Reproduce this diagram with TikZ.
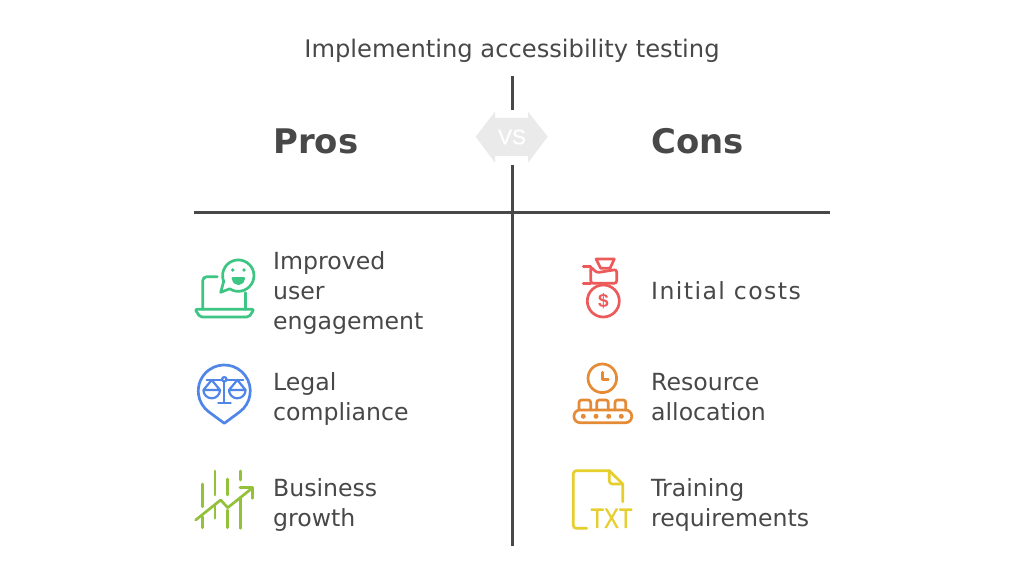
\documentclass[tikz,border=0pt]{standalone}
\usepackage{fontspec}
\setmainfont{DejaVu Sans}
\newfontfamily\iconfont{Liberation Sans}
\definecolor{inkgrey}{HTML}{484848}
\definecolor{vsgrey}{HTML}{EAEAEA}
\definecolor{icongreen}{HTML}{3CC583}
\definecolor{iconblue}{HTML}{4F86E8}
\definecolor{iconlime}{HTML}{93C13A}
\definecolor{iconred}{HTML}{EC5A5A}
\definecolor{iconorange}{HTML}{E58A35}
\definecolor{iconyellow}{HTML}{E6CE2C}
\begin{document}
\begin{tikzpicture}[
	x=1pt, y=-1pt,
	% Define the styles for the texts and lines
	titletext/.style={text=inkgrey, inner sep=0pt, font=\fontsize{24.2}{28}\selectfont},
	headtext/.style={text=inkgrey, inner sep=0pt, anchor=west, font=\fontsize{33.9}{40}\selectfont\bfseries},
	itemtext/.style={text=inkgrey, inner sep=0pt, anchor=west, align=left, font=\fontsize{23.6}{30}\selectfont},
	axisline/.style={draw=inkgrey, line width=3pt},
	iconline/.style={line width=2.7pt, line join=round, line cap=round},
	thinline/.style={line width=2.2pt, line join=round, line cap=round}
	]
	
	\useasboundingbox[fill=white] (0,0) rectangle (1024,577);
	
	% --- TEXTS ---
	\node[titletext] (title) at (512,51) {Implementing accessibility testing};
	\node[headtext] (pros) at (273,141) {Pros};
	\node[headtext] (cons) at (651,141) {Cons};
	
	\node[itemtext] (engage) at (273,293) {Improved\\user\\engagement};
	\node[itemtext] (legal) at (273,399) {Legal\\compliance};
	\node[itemtext] (growth) at (273,505) {Business\\growth};
	\node[itemtext] (costs) at (651,291) {\addfontfeature{LetterSpace=6}Initial costs};
	\node[itemtext] (resource) at (651,397) {Resource\\allocation};
	\node[itemtext] (training) at (651,505) {Training\\requirements};
	
	% --- AXES ---
	\coordinate (axistop) at (512,76);
	\coordinate (vstop) at (512,110);
	\coordinate (vsbottom) at (512,165);
	\coordinate (axisbottom) at (512,546);
	\coordinate (axisleft) at (194,213);
	\coordinate (axisright) at (830,213);
	
	\draw[axisline] (axistop) -- (vstop);
	\draw[axisline] (vsbottom) -- (axisbottom);
	\draw[axisline] (axisleft) -- (axisright);
	
	% --- VS BADGE ---
	\fill[vsgrey] (475.7,136.7) -- (495,111.7) -- (495,118) -- (528,118) -- (528,111.7) -- (547.7,136.7)
		-- (528,162.7) -- (528,156) -- (495,156) -- (495,162.7) -- cycle;
	\node[text=white, inner sep=0pt, font=\iconfont\addfontfeature{FakeBold=0.5}\fontsize{21}{24}\selectfont] (vs) at (512,137) {VS};
	
	% --- ICON: LAPTOP ---
	\draw[iconline, icongreen, rounded corners=4pt] (202.7,309.3) -- (202.7,276.7) -- (217.3,276.7);
	\draw[iconline, icongreen] (245.7,292.7) -- (245.7,309.3);
	\draw[iconline, icongreen, rounded corners=2pt] (195,309.3) -- (254,309.3) -- (249,317) -- (200,317) -- cycle;
	\draw[iconline, icongreen] (229.7,288.8) arc (123:-202:15.7) -- (220.7,292.3) -- cycle;
	\fill[icongreen] (232.7,270) circle (1.8) (244,270) circle (1.8);
	\draw[thinline, icongreen, fill=icongreen] (232.7,278.3) -- (244,278.3) arc (0:180:5.65);
	
	% --- ICON: SCALES PIN ---
	\draw[iconline, iconblue] (224.3,423.3) -- (239.7,411.9) arc (53.6:-233.6:26) -- cycle;
	\draw[thinline, iconblue] (206.7,380) -- (222,380) (226.6,380) -- (243.3,380);
	\draw[thinline, iconblue] (224.3,379.3) circle (2.2);
	\draw[thinline, iconblue] (224.3,381.7) -- (224.3,402.7) (218.3,402.7) -- (230.7,402.7);
	\draw[thinline, iconblue] (203.4,390) -- (220,390) arc (0:180:8.3) (203.4,390) -- (211.7,380) -- (220,390);
	\draw[thinline, iconblue] (229,390) -- (245.6,390) arc (0:180:8.3) (229,390) -- (237.3,380) -- (245.6,390);
	
	% --- ICON: GROWTH CHART ---
	\draw[iconline, iconlime] (202.3,484) -- (202.3,506.7) (202.3,516.7) -- (202.3,527.7);
	\draw[iconline, iconlime] (215,471) -- (215,495) (215,505) -- (215,518.3);
	\draw[iconline, iconlime] (227.3,479) -- (227.3,495) (227.3,510) -- (227.3,527.7);
	\draw[iconline, iconlime] (240.3,471) -- (240.3,480) (240.3,498.3) -- (240.3,528.3);
	\draw[iconline, iconlime] (195.7,520) -- (220.7,500) -- (227.7,507.7) -- (252.7,487.7);
	\draw[iconline, iconlime] (240,487.7) -- (252.7,487.7) -- (252.7,498.3);
	
	% --- ICON: MONEY BAG ---
	\draw[iconline, iconred] (596,259) -- (614.3,259) -- (610,268.3) -- (600.7,268.3) -- cycle;
	\draw[iconline, iconred] (583.3,266.7) -- (590.7,266.7) (583.3,283.3) -- (590.7,283.3);
	\draw[iconline, iconred, rounded corners=2.5pt] (590.7,266.7) -- (596.7,272.7) -- (616.7,269.5) -- (616.7,283.3) -- (590.7,283.3) -- cycle;
	\draw[iconline, iconred] (603.3,301) circle (16);
	\node[text=iconred, inner sep=0pt, font=\iconfont\bfseries\fontsize{19}{20}\selectfont] (dollar) at (603.3,301) {\$};
	
	% --- ICON: CLOCK ON BELT ---
	\draw[iconline, iconorange] (602.3,378.3) circle (14.3);
	\draw[iconline, iconorange] (602.3,372.3) -- (602.3,379.3) -- (608.3,379.3);
	\draw[iconline, iconorange, rounded corners=6pt] (574,410) rectangle (631.7,422.7);
	\draw[iconline, iconorange, rounded corners=2.5pt] (579,410) -- (579,400) -- (590.7,400) -- (590.7,410);
	\draw[iconline, iconorange, rounded corners=2.5pt] (596.7,410) -- (596.7,400) -- (608.3,400) -- (608.3,410);
	\draw[iconline, iconorange, rounded corners=2.5pt] (615,410) -- (615,400) -- (625.7,400) -- (625.7,410);
	\foreach \dotx in {583.3,596,608.7,621.3}
		\fill[iconorange] (\dotx,416.3) circle (2.5);
	
	% --- ICON: TXT FILE ---
	\draw[iconline, iconyellow, rounded corners=3pt] (586.7,528.3) -- (573.3,528.3) -- (573.3,470.7) -- (609.3,470.7);
	\draw[iconline, iconyellow] (609.3,470.7) -- (622.7,484) -- (622.7,501.7);
	\draw[iconline, iconyellow, rounded corners=3pt] (609.3,470.7) -- (609.3,484) -- (622.7,484);
	\node[text=iconyellow, inner sep=0pt, xscale=0.8, font=\iconfont\addfontfeature{FakeBold=0.6}\fontsize{28}{30}\selectfont] (txt) at (611.5,518.3) {TXT};
	
\end{tikzpicture}
\end{document}
